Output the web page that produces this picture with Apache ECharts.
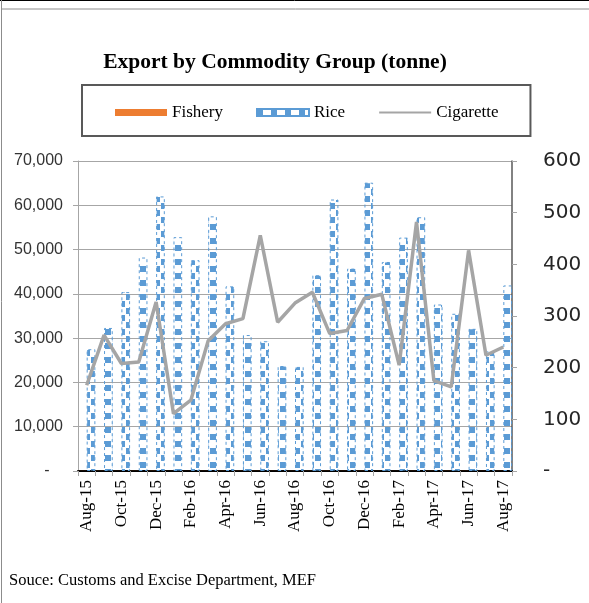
<!DOCTYPE html>
<html>
<head>
<meta charset="utf-8">
<script src="https://cdn.jsdelivr.net/npm/echarts@6/dist/echarts.min.js"></script>
<style>
html,body{margin:0;padding:0;background:#fff;}
#main{width:589px;height:603px;}
</style>
</head>
<body>
<div id="main"></div>
<script>
const months = ['Aug-15','Sep-15','Oct-15','Nov-15','Dec-15','Jan-16','Feb-16','Mar-16','Apr-16','May-16','Jun-16','Jul-16','Aug-16','Sep-16','Oct-16','Nov-16','Dec-16','Jan-17','Feb-17','Mar-17','Apr-17','May-17','Jun-17','Jul-17','Aug-17'];
const fishery = [20, 25, 18, 22, 30, 15, 12, 20, 25, 28, 22, 18, 20, 24, 26, 21, 30, 16, 14, 22, 25, 27, 23, 19, 21];
const rice = [27500, 32300, 40400, 48200, 62000, 52800, 47600, 57500, 41700, 30700, 29300, 23700, 23500, 44200, 61300, 45700, 65100, 47200, 52700, 57300, 37600, 35500, 32100, 27000, 41900];
const cigarette = [166, 263, 208, 211, 327, 111, 137, 252, 285, 295, 456, 288, 325, 346, 266, 272, 334, 342, 205, 482, 175, 163, 427, 224, 240];
const leftTicks = {min: 0, max: 70000, interval: 10000};
const rightTicks = {min: 0, max: 600, interval: 100};

function makePattern() {
  const c = document.createElement('canvas');
  c.width = 14; c.height = 14;
  const g = c.getContext('2d');
  g.fillStyle = '#5B9BD5';
  g.fillRect(0, 0, 6, 6);
  g.fillRect(7, 7, 6, 6);
  return c;
}
const ricePattern = {image: makePattern(), repeat: 'repeat'};

const chart = echarts.init(document.getElementById('main'), null, {renderer: 'canvas'});
const grey = '#a6a6a6';
const option = {
  animation: false,
  backgroundColor: '#fff',
  graphic: [
    {type: 'line', shape: {x1: 0, y1: 0.5, x2: 589, y2: 0.5}, style: {stroke: '#000', lineWidth: 1}},
    {type: 'line', shape: {x1: 2, y1: 9, x2: 589, y2: 9}, style: {stroke: '#8c8c8c', lineWidth: 1}},
    {type: 'line', shape: {x1: 1.5, y1: 0, x2: 1.5, y2: 603}, style: {stroke: '#8c8c8c', lineWidth: 1}},
    {type: 'text', x: 275, y: 62, style: {text: 'Export by Commodity Group (tonne)', font: 'bold 21.5px "Liberation Serif"', fill: '#000', textAlign: 'center', textVerticalAlign: 'middle'}},
    {type: 'text', x: 9, y: 581, style: {text: 'Souce: Customs and Excise Department, MEF', font: '16.5px "Liberation Serif"', fill: '#000', textAlign: 'left', textVerticalAlign: 'middle'}}
  ],
  legend: {
    left: 82, top: 85,
    padding: [19, 32, 15, 33],
    borderColor: '#595959', borderWidth: 2,
    itemGap: 33, itemWidth: 52, itemHeight: 7,
    textStyle: {fontFamily: 'Liberation Serif', fontSize: 17, color: '#000'},
    data: [
      {name: 'Fishery', icon: 'rect'},
      {name: 'Rice', icon: 'rect'},
      {name: 'Cigarette', itemStyle: {color: 'rgba(0,0,0,0)', borderWidth: 0, opacity: 0}}
    ]
  },
  grid: {left: 78, right: 77, top: 161, bottom: 132},
  xAxis: [{
    type: 'category', data: months, position: 'bottom',
    axisLine: {show: true, lineStyle: {color: grey, width: 1}},
    axisTick: {show: true, interval: 0, alignWithLabel: false, length: 5, lineStyle: {color: grey}},
    axisLabel: {interval: 1, rotate: 90, margin: 9, fontFamily: 'Liberation Serif', fontSize: 17, color: '#000'},
    splitLine: {show: false}
  }, {
    type: 'category', data: months, position: 'top',
    axisLine: {show: true, lineStyle: {color: '#000', width: 2}},
    axisTick: {show: false}, axisLabel: {show: false}, splitLine: {show: false}
  }],
  yAxis: [{
    type: 'value', min: leftTicks.min, max: leftTicks.max, interval: leftTicks.interval, position: 'left',
    axisLine: {show: true, lineStyle: {color: grey}},
    axisTick: {show: true, length: 5, lineStyle: {color: grey}},
    axisLabel: {margin: 15, fontFamily: 'Liberation Sans', fontSize: 16, color: '#333',
      formatter: v => v === 0 ? '-   ' : v.toLocaleString('en-US')},
    splitLine: {show: true, lineStyle: {color: grey, width: 1}}
  }, {
    type: 'value', min: rightTicks.min, max: rightTicks.max, interval: rightTicks.interval, position: 'right',
    axisLine: {show: true, lineStyle: {color: '#595959', width: 1.5}},
    axisTick: {show: true, length: 5, lineStyle: {color: grey}},
    axisLabel: {margin: 31, fontFamily: 'DejaVu Sans', fontSize: 20, color: '#262626',
      formatter: v => v === 0 ? '-' : String(v)},
    splitLine: {show: false}
  }],
  series: [{
    name: 'Fishery', type: 'bar', data: fishery, xAxisIndex: 0, yAxisIndex: 0,
    barGap: '0%', barCategoryGap: '0%',
    itemStyle: {color: '#ED7D31'}
  }, {
    name: 'Rice', type: 'bar', data: rice, xAxisIndex: 0, yAxisIndex: 0,
    barGap: '0%', barCategoryGap: '0%',
    itemStyle: {color: ricePattern, borderColor: '#5B9BD5', borderWidth: 1, borderType: [3, 3]}
  }, {
    name: 'Cigarette', type: 'line', data: cigarette, xAxisIndex: 0, yAxisIndex: 1,
    symbol: 'none', showSymbol: false,
    lineStyle: {color: '#A5A5A5', width: 3.5},
    itemStyle: {color: '#A5A5A5'}
  }]
};
chart.setOption(option);
</script>
</body>
</html>
